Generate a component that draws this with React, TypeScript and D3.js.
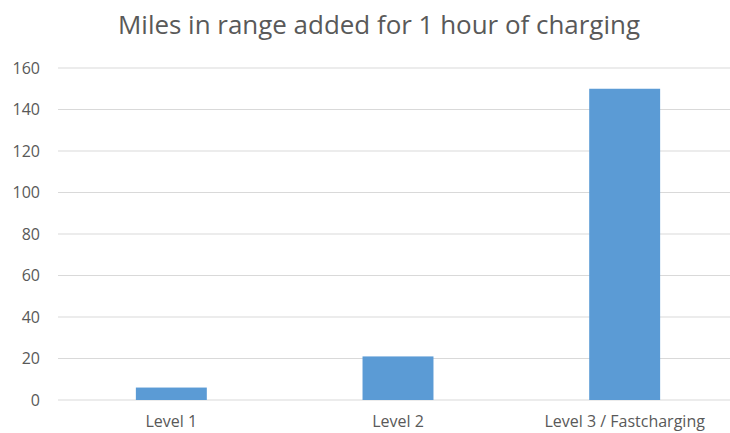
import React from "react";
import * as d3 from "d3";

const categories = ["Level 1", "Level 2", "Level 3 / Fastcharging"];
const values = [6, 21, 150];
const yTicks = [0, 20, 40, 60, 80, 100, 120, 140, 160];
const title = "Miles in range added for 1 hour of charging";

const W = 730;
const H = 433;
const FONT = "Open Sans, Lato, sans-serif";

export default function App() {
  const x = d3.scaleBand<string>().domain(categories).range([58, 738]).paddingInner(0.687).paddingOuter(0.3435);
  const y = d3.scaleLinear().domain([0, 160]).range([400, 68]);
  return (
    <svg width={W} height={H} style={{ position: "absolute", left: 0, top: 0, background: "#fff" }}>
      <rect x={0} y={0} width={W} height={H} fill="#fff" />
      <text x={379} y={34} textAnchor="middle" fontFamily={FONT} fontSize={25.5} fill="#595959" textLength={522} lengthAdjust="spacingAndGlyphs">
        {title}
      </text>
      {yTicks.map((t) => (
        <g key={t}>
          <line x1={58} x2={W} y1={y(t)} y2={y(t)} stroke="#d9d9d9" strokeWidth={1} />
          <text x={40} y={y(t)} dy="0.35em" textAnchor="end" fontFamily={FONT} fontSize={16} fill="#595959">
            {t}
          </text>
        </g>
      ))}
      {categories.map((c, i) => (
        <rect key={c} x={x(c)} y={y(values[i])} width={x.bandwidth()} height={y(0) - y(values[i])} fill="#5b9bd5" />
      ))}
      {categories.map((c) => (
        <text key={c} x={(x(c) as number) + x.bandwidth() / 2} y={427} textAnchor="middle" fontFamily={FONT} fontSize={16} fill="#595959">
          {c}
        </text>
      ))}
    </svg>
  );
}
